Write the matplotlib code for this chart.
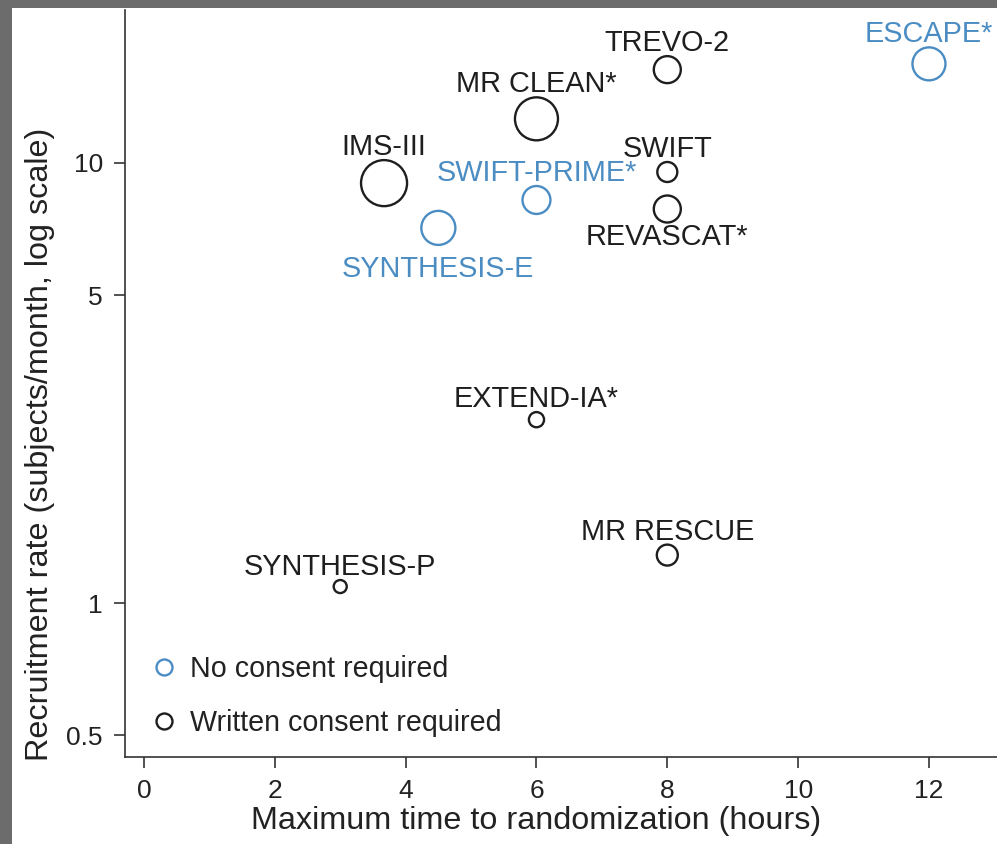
import matplotlib
matplotlib.use("Agg")
import matplotlib.pyplot as plt
from matplotlib.lines import Line2D
from matplotlib.patches import Rectangle
import numpy as np

plt.rcParams['font.family'] = ['Liberation Sans', 'DejaVu Sans']

# values
trials = ["TREVO-2", "ESCAPE*", "MR CLEAN*", "IMS-III", "SWIFT-PRIME*", "SWIFT",
          "REVASCAT*", "SYNTHESIS-E", "EXTEND-IA*", "MR RESCUE", "SYNTHESIS-P"]
max_time = [8, 12, 6, 3.67, 6, 8, 8, 4.5, 6, 8, 3]
recruit_rate = [16.3, 16.8, 12.6, 9.0, 8.24, 9.54, 7.86, 7.12, 2.61, 1.285, 1.09]
no_consent = [False, True, False, False, True, False, False, True, False, False, False]
# relative bubble area
weight = [7.3, 10.9, 18.5, 21.2, 7.8, 4.0, 7.3, 11.6, 2.3, 4.4, 1.7]

xticks = [0, 2, 4, 6, 8, 10, 12]
yticks = [0.5, 1, 5, 10]
ytick_labels = ["0.5", "1", "5", "10"]

# labels drawn under the bubble, with the gap (points) to the bubble edge
label_below = {"REVASCAT*": 0.5, "SYNTHESIS-E": 7.5}

BLUE = "#4b8dc3"
BLACK = "#1e1e1e"

W, H = 997, 844
fig = plt.figure(figsize=(W / 100, H / 100), dpi=100, facecolor="#6c6c6c")
fig.patches.append(Rectangle((12 / W, 0), 1, 1 - 8 / H, transform=fig.transFigure,
                             facecolor="white", edgecolor="none", zorder=-1))

ax = fig.add_axes([125 / W, (H - 757) / H, (W - 125) / W, (757 - 10) / H])
ax.set_facecolor("white")

sizes = np.array(weight) * 51.8
cols = [BLUE if n else BLACK for n in no_consent]

ax.scatter(max_time, recruit_rate, s=sizes, facecolors="none", edgecolors=cols,
           linewidths=1.7, zorder=3)

for name, x, y, s, c in zip(trials, max_time, recruit_rate, sizes, cols):
    r = np.sqrt(s) / 2
    if name in label_below:
        ax.annotate(name, (x, y), xytext=(0, -(r + label_below[name])),
                    textcoords="offset points", ha="center", va="top",
                    fontsize=20.8, color=c)
    else:
        ax.annotate(name, (x, y), xytext=(0, r + 3.5), textcoords="offset points",
                    ha="center", va="baseline", fontsize=20.8, color=c)

ax.set_yscale("log")
ax.set_xlim(-0.29, 13.04)
ax.set_ylim(0.4467, 22.27)
ax.set_xticks(xticks)
ax.set_yticks(yticks)
ax.set_yticklabels(ytick_labels)
ax.yaxis.set_minor_locator(matplotlib.ticker.NullLocator())

for side in ["top", "right"]:
    ax.spines[side].set_visible(False)
for side in ["left", "bottom"]:
    ax.spines[side].set_color("#333333")
    ax.spines[side].set_linewidth(1.2)

ax.tick_params(axis="both", direction="out", length=8, width=1.2, color="#333333",
               labelsize=19, labelcolor="#222222", pad=8)

ax.set_xlabel("Maximum time to randomization (hours)", fontsize=23.3, color="#222222")
ax.set_ylabel("Recruitment rate (subjects/month, log scale)", fontsize=23.3, color="#222222")
ax.xaxis.set_label_coords((536 - 125) / 872, -0.066)
ax.yaxis.set_label_coords(-0.080, (757 - 444) / 747)

handles = [
    Line2D([], [], marker="o", linestyle="none", markersize=11.5, markerfacecolor="none",
           markeredgecolor=BLUE, markeredgewidth=1.7),
    Line2D([], [], marker="o", linestyle="none", markersize=11.5, markerfacecolor="none",
           markeredgecolor=BLACK, markeredgewidth=1.7),
]
ax.legend(handles, ["No consent required", "Written consent required"], loc="lower left",
          bbox_to_anchor=(5 / 872, 0.0), frameon=False, fontsize=20.6,
          handlelength=1.0, handletextpad=0.4, labelspacing=0.9, borderaxespad=0.3,
          labelcolor="#222222")

fig.savefig("out.png", dpi=100, facecolor=fig.get_facecolor())
